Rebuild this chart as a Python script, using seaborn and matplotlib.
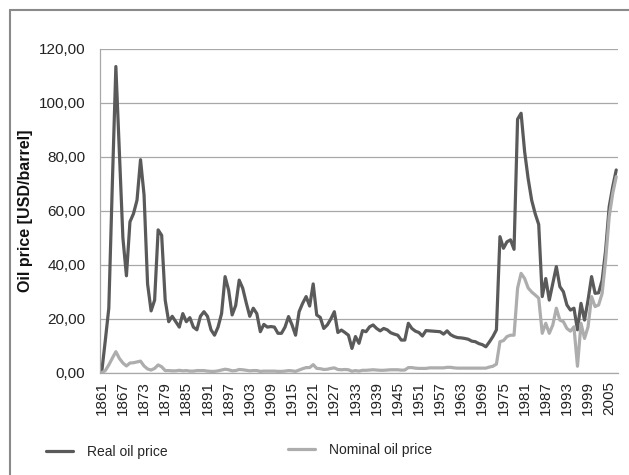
import matplotlib
matplotlib.use("Agg")
import matplotlib.pyplot as plt
from matplotlib.lines import Line2D
from matplotlib.ticker import FuncFormatter
import seaborn as sns
import pandas as pd
import numpy as np

# Annual oil prices 1861-2007 (USD/barrel)
years = list(range(1861, 2008))

real_price = [
    0.5, 12, 24, 70, 113.5, 82, 50, 36, 56, 59,
    64, 79, 66, 33, 23, 27, 53, 51, 27, 19,
    21, 19, 17, 22, 19, 20.5, 17, 16, 21, 22.7,
    21, 16, 14, 17, 22, 35.7, 30.7, 21.5, 25, 34.4,
    31.4, 26, 21, 24, 22, 15.3, 18, 17, 17.2, 17,
    14.7, 14.7, 17, 20.9, 17.8, 14, 22.7, 25.8, 28.3, 24.8,
    33, 21.5, 20.6, 16.5, 17.8, 20, 22.7, 15, 15.9, 15,
    14, 9.1, 13.5, 11, 15.7, 15.3, 17.1, 17.8, 16.5, 15.6,
    16.5, 16, 14.9, 14.4, 14, 12.2, 12.2, 18.4, 16.5, 15.5,
    15, 13.7, 15.7, 15.6, 15.5, 15.4, 15.3, 14.4, 15.6, 14.2,
    13.5, 13.1, 13, 12.8, 12.5, 11.8, 11.6, 10.9, 10.5, 9.7,
    11.5, 13.5, 16, 50.5, 46.2, 48.6, 49.3, 45.8, 94, 96.2,
    82, 72, 64, 59, 55, 28.3, 35, 27, 33.2, 39.4,
    32, 30.1, 25.2, 23.3, 24, 16, 25.8, 19.6, 27, 35.7,
    29.5, 29.7, 34.4, 45.6, 61.6, 69, 75.2,
]

nominal_price = [
    0.1, 0.9, 3.0, 5.5, 7.9, 5.4, 3.7, 2.6, 3.7, 3.8,
    4.1, 4.4, 2.6, 1.5, 1.1, 1.7, 3.0, 2.3, 0.9, 0.9,
    0.8, 0.8, 1.0, 0.8, 0.9, 0.7, 0.7, 0.9, 0.9, 0.9,
    0.7, 0.6, 0.6, 0.8, 1.1, 1.4, 1.2, 0.8, 0.9, 1.3,
    1.2, 1.0, 0.8, 0.9, 0.9, 0.6, 0.7, 0.7, 0.7, 0.7,
    0.6, 0.6, 0.7, 0.9, 0.8, 0.6, 1.1, 1.6, 2.0, 2.0,
    3.1, 1.7, 1.6, 1.3, 1.4, 1.7, 1.9, 1.3, 1.2, 1.3,
    1.2, 0.65, 0.9, 0.7, 1.0, 1.0, 1.1, 1.2, 1.1, 1.0,
    1.0, 1.1, 1.2, 1.2, 1.2, 1.05, 1.1, 2.0, 2.0, 1.8,
    1.7, 1.7, 1.7, 1.9, 1.9, 1.9, 1.9, 1.9, 2.1, 2.1,
    1.9, 1.8, 1.8, 1.8, 1.8, 1.8, 1.8, 1.8, 1.8, 1.8,
    2.2, 2.5, 3.3, 11.6, 12.0, 13.5, 14.0, 14.0, 31.4, 36.9,
    35.0, 31.5, 30.0, 28.9, 27.7, 14.7, 18.4, 14.7, 17.8, 24.0,
    19.6, 19.0, 16.5, 15.5, 17.1, 2.5, 18.4, 12.8, 17.1, 28.3,
    24.6, 25.2, 29.5, 41.9, 57.9, 66.5, 72.7,
]

tick_years = list(range(1861, 2006, 6))
series_labels = ["Real oil price", "Nominal oil price"]

df = pd.DataFrame({"year": years, "real": real_price, "nominal": nominal_price})

sns.set_theme(style="white")
plt.rcParams["font.family"] = ["Liberation Sans", "DejaVu Sans"]

fig = plt.figure(figsize=(6.29, 4.75), dpi=100)
ax = fig.add_axes([100 / 629, 1 - 373 / 475, 518 / 629, 324 / 475])

dark = "#5a5a5a"
light = "#adadad"
sns.lineplot(data=df, x="year", y="real", ax=ax, color=dark, lw=2.3, label=series_labels[0], legend=False)
sns.lineplot(data=df, x="year", y="nominal", ax=ax, color=light, lw=2.3, label=series_labels[1], legend=False)

ax.set_xlim(1860.5, 2007.5)
ax.set_ylim(0, 120)
ax.set_yticks(range(0, 121, 20))
ax.yaxis.set_major_formatter(FuncFormatter(lambda v, p: f"{v:.2f}".replace(".", ",")))
ax.set_xticks(tick_years)
ax.set_xticklabels([str(y) for y in tick_years], rotation=90)
ax.tick_params(axis="y", length=0, pad=10.5, labelsize=11, labelcolor="#222222")
ax.tick_params(axis="x", length=0, pad=6, labelsize=11, labelcolor="#222222")

ax.grid(axis="y", color="#a8a8a8", lw=0.9)
ax.set_axisbelow(True)
for side in ["top", "right"]:
    ax.spines[side].set_visible(False)
for side in ["left", "bottom"]:
    ax.spines[side].set_color("#a8a8a8")
    ax.spines[side].set_linewidth(0.9)

ax.set_xlabel("")
ax.set_ylabel("Oil price [USD/barrel]", fontsize=11.5, fontweight="bold", labelpad=4, color="#111111")

# legend entries laid out like the original, below the plot
h_real = Line2D([], [], color=dark, lw=2.3)
h_nom = Line2D([], [], color=light, lw=2.3)
leg_kw = dict(frameon=False, fontsize=10, handlelength=1.95, handletextpad=1.0,
              borderpad=0, borderaxespad=0, loc="center left")
leg1 = fig.legend([h_real], [series_labels[0]], bbox_to_anchor=(46 / 629, 1 - 452 / 475), **leg_kw)
fig.legend([h_nom], [series_labels[1]], bbox_to_anchor=(288 / 629, 1 - 450 / 475), **leg_kw)

# outer chart border (left and top edges visible)
fig.add_artist(Line2D([10 / 629, 10 / 629], [0, 1 - 10 / 475], color="#8a8a8a", lw=1.5))
fig.add_artist(Line2D([10 / 629, 1], [1 - 10 / 475, 1 - 10 / 475], color="#8a8a8a", lw=1.5))

fig.savefig("out.png", dpi=100, facecolor="white")
